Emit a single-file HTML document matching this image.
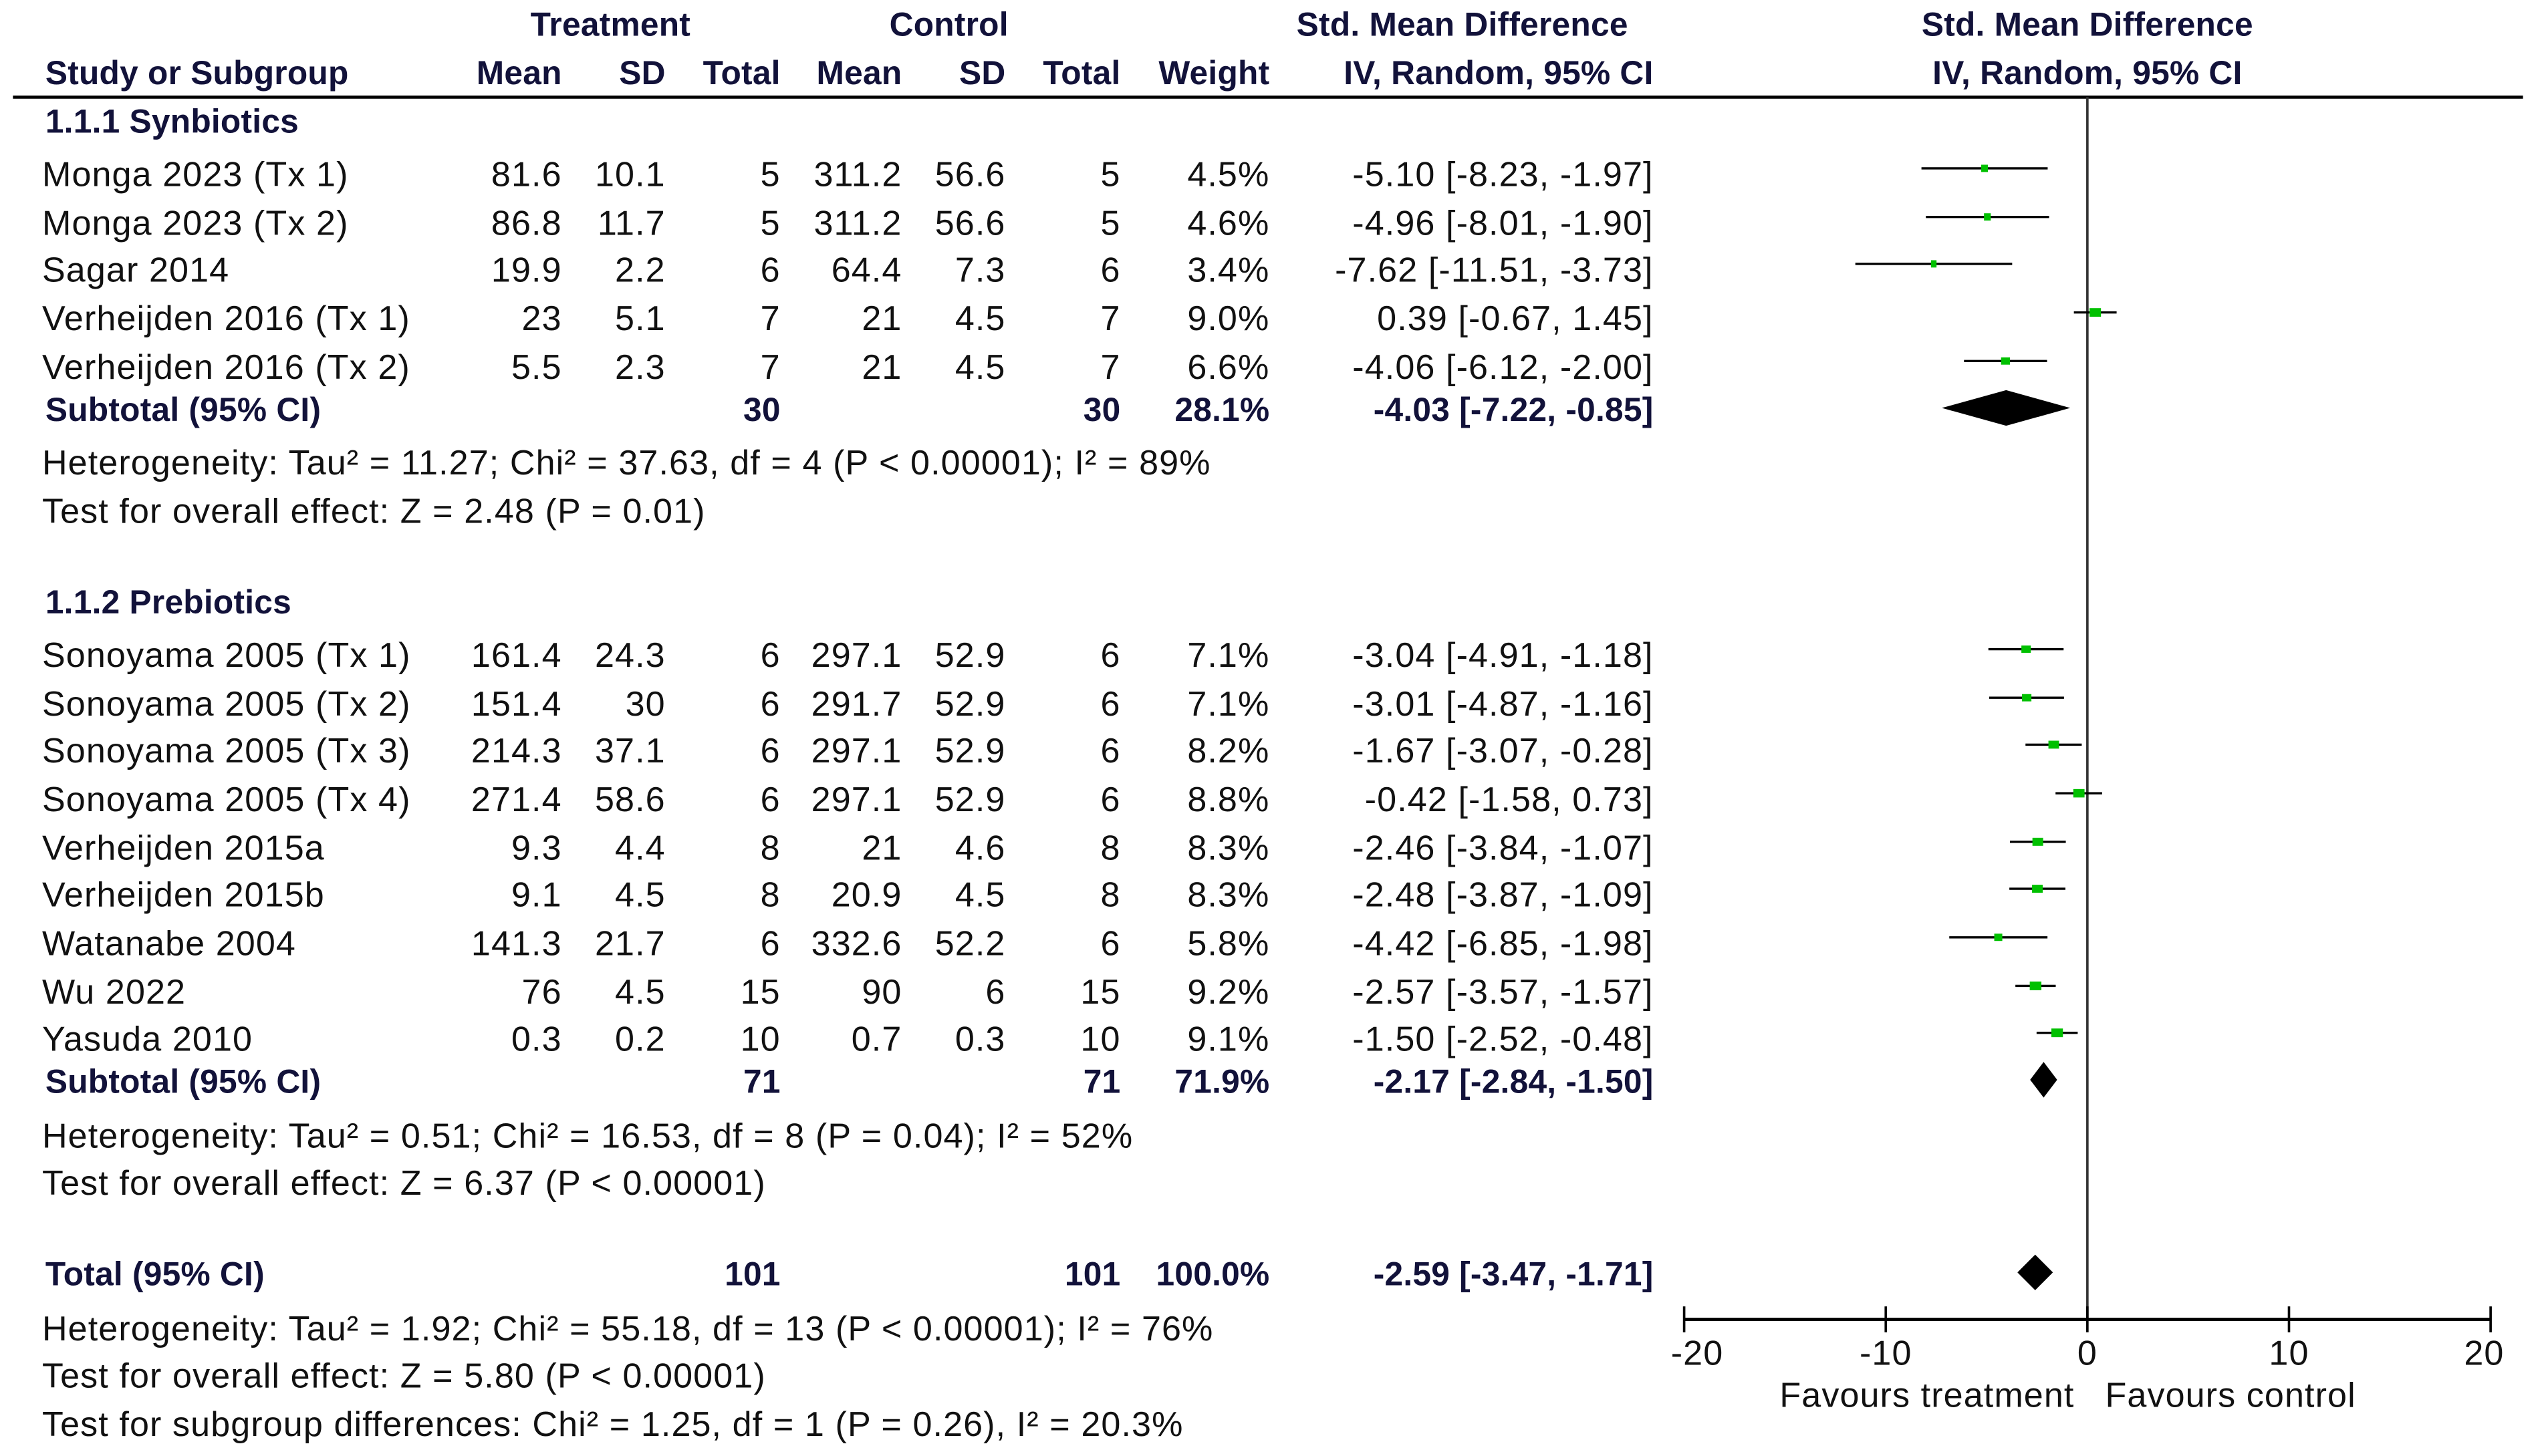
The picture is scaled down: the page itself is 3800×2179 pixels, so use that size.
<!DOCTYPE html>
<html><head><meta charset="utf-8">
<style>
html,body{margin:0;padding:0;background:#fff;}
svg{display:block;}
text{font-family:"Liberation Sans",Arial,sans-serif;font-size:21.5px;letter-spacing:0.45px;fill:#111;}
.b{font-weight:bold;fill:#12123a;font-size:20.5px;letter-spacing:0.1px;}
</style></head>
<body>
<svg id="chart" width="3800" height="2179" viewBox="0 0 1568.5 899.4" preserveAspectRatio="none" xmlns="http://www.w3.org/2000/svg">
<g>
<text class="b" x="377" y="22" text-anchor="middle">Treatment</text>
<text class="b" x="586" y="22" text-anchor="middle">Control</text>
<text class="b" x="903" y="22" text-anchor="middle">Std. Mean Difference</text>
<text class="b" x="1289" y="22" text-anchor="middle">Std. Mean Difference</text>
<text class="b" x="28" y="52">Study or Subgroup</text>
<text class="b" x="347" y="52" text-anchor="end">Mean</text>
<text class="b" x="411" y="52" text-anchor="end">SD</text>
<text class="b" x="482" y="52" text-anchor="end">Total</text>
<text class="b" x="557" y="52" text-anchor="end">Mean</text>
<text class="b" x="621" y="52" text-anchor="end">SD</text>
<text class="b" x="692" y="52" text-anchor="end">Total</text>
<text class="b" x="784" y="52" text-anchor="end">Weight</text>
<text class="b" x="1021" y="52" text-anchor="end">IV, Random, 95% CI</text>
<text class="b" x="1289" y="52" text-anchor="middle">IV, Random, 95% CI</text>
<line x1="8" y1="60" x2="1558" y2="60" stroke="#000" stroke-width="2"/>
</g>
<g id="rows"></g>
<g id="plot"></g>
</svg>
<script>
// Study data
const studies = ["Monga 2023 (Tx 1)","Monga 2023 (Tx 2)","Sagar 2014","Verheijden 2016 (Tx 1)","Verheijden 2016 (Tx 2)",
 "Sonoyama 2005 (Tx 1)","Sonoyama 2005 (Tx 2)","Sonoyama 2005 (Tx 3)","Sonoyama 2005 (Tx 4)","Verheijden 2015a","Verheijden 2015b","Watanabe 2004","Wu 2022","Yasuda 2010"];
const trtMean = ["81.6","86.8","19.9","23","5.5","161.4","151.4","214.3","271.4","9.3","9.1","141.3","76","0.3"];
const trtSD = ["10.1","11.7","2.2","5.1","2.3","24.3","30","37.1","58.6","4.4","4.5","21.7","4.5","0.2"];
const trtN = ["5","5","6","7","7","6","6","6","6","8","8","6","15","10"];
const ctlMean = ["311.2","311.2","64.4","21","21","297.1","291.7","297.1","297.1","21","20.9","332.6","90","0.7"];
const ctlSD = ["56.6","56.6","7.3","4.5","4.5","52.9","52.9","52.9","52.9","4.6","4.5","52.2","6","0.3"];
const ctlN = ["5","5","6","7","7","6","6","6","6","8","8","6","15","10"];
const weights = [4.5,4.6,3.4,9.0,6.6,7.1,7.1,8.2,8.8,8.3,8.3,5.8,9.2,9.1];
const smd = [-5.10,-4.96,-7.62,0.39,-4.06,-3.04,-3.01,-1.67,-0.42,-2.46,-2.48,-4.42,-2.57,-1.50];
const ciLo = [-8.23,-8.01,-11.51,-0.67,-6.12,-4.91,-4.87,-3.07,-1.58,-3.84,-3.87,-6.85,-3.57,-2.52];
const ciHi = [-1.97,-1.90,-3.73,1.45,-2.00,-1.18,-1.16,-0.28,0.73,-1.07,-1.09,-1.98,-1.57,-0.48];
const studyRowY = [108,138,167,197,227,405,435,464,494,524,553,583,613,642];
// Summary data
const sumLabels = ["Subtotal (95% CI)","Subtotal (95% CI)","Total (95% CI)"];
const sumTrtN = ["30","71","101"];
const sumCtlN = ["30","71","101"];
const sumWeight = ["28.1%","71.9%","100.0%"];
const sumEst = [-4.03,-2.17,-2.59];
const sumLo = [-7.22,-2.84,-3.47];
const sumHi = [-0.85,-1.50,-1.71];
const sumRowY = [253,668,787];
const axisTicks = [-20,-10,0,10,20];

const NS="http://www.w3.org/2000/svg";
const rows=document.getElementById('rows'), plot=document.getElementById('plot');
function xs(v){return 1289+v*12.45;}
function mk(tag,attrs,parent,txt){const e=document.createElementNS(NS,tag);for(const k in attrs)e.setAttribute(k,attrs[k]);if(txt!==undefined)e.textContent=txt;parent.appendChild(e);return e;}
function f2(v){return (v<0?"-":"")+Math.abs(v).toFixed(2);}
function txt(x,y,s,anchor,cls,name){const t=mk('text',{x:x,y:y+7,'text-anchor':anchor||'start'},rows,s);if(cls)t.setAttribute('class',cls);

return t;}

txt(28,75,"1.1.1 Synbiotics","start","b","group-title-synbiotics");
txt(28,372,"1.1.2 Prebiotics","start","b","group-title-prebiotics");
const notes=[[286,"Heterogeneity: Tau² = 11.27; Chi² = 37.63, df = 4 (P < 0.00001); I² = 89%"],[316,"Test for overall effect: Z = 2.48 (P = 0.01)"],
[702,"Heterogeneity: Tau² = 0.51; Chi² = 16.53, df = 8 (P = 0.04); I² = 52%"],[731,"Test for overall effect: Z = 6.37 (P < 0.00001)"],
[821,"Heterogeneity: Tau² = 1.92; Chi² = 55.18, df = 13 (P < 0.00001); I² = 76%"],[850,"Test for overall effect: Z = 5.80 (P < 0.00001)"],
[880,"Test for subgroup differences: Chi² = 1.25, df = 1 (P = 0.26), I² = 20.3%"]];
notes.forEach(n=>txt(26,n[0],n[1],"start",null,"stats-note"));

const zl=mk('line',{x1:xs(0),y1:60,x2:xs(0),y2:815,stroke:'#333','stroke-width':1.5},plot);



studies.forEach((s,i)=>{
 const y=studyRowY[i];
 txt(26,y,s,"start",null,"study-name");
 txt(347,y,trtMean[i],"end",null,"treatment-mean");
 txt(411,y,trtSD[i],"end",null,"treatment-sd");
 txt(482,y,trtN[i],"end",null,"treatment-total");
 txt(557,y,ctlMean[i],"end",null,"control-mean");
 txt(621,y,ctlSD[i],"end",null,"control-sd");
 txt(692,y,ctlN[i],"end",null,"control-total");
 txt(784,y,weights[i].toFixed(1)+"%","end",null,"weight");
 txt(1021,y,f2(smd[i])+" ["+f2(ciLo[i])+", "+f2(ciHi[i])+"]","end",null,"effect-ci");
 const py=y-4;
 const l=mk('line',{x1:xs(ciLo[i]),y1:py,x2:xs(ciHi[i]),y2:py,stroke:'#000','stroke-width':1.4},plot);
 
 
 const sz=1.2+weights[i]*0.65, sh=Math.max(4.5,sz*0.75);
 const r=mk('rect',{x:xs(smd[i])-sz/2,y:py-sh/2,width:sz,height:sh,fill:'#00c000'},plot);
 
 
});

sumLabels.forEach((s,i)=>{
 const y=sumRowY[i];
 txt(28,y,s,"start","b","summary-label");
 txt(482,y,sumTrtN[i],"end","b","summary-treatment-total");
 txt(692,y,sumCtlN[i],"end","b","summary-control-total");
 txt(784,y,sumWeight[i],"end","b","summary-weight");
 txt(1021,y,f2(sumEst[i])+" ["+f2(sumLo[i])+", "+f2(sumHi[i])+"]","end","b","summary-effect-ci");
 const py=y-1;
 const d=mk('polygon',{points:`${xs(sumLo[i])},${py} ${xs(sumEst[i])},${py-11} ${xs(sumHi[i])},${py} ${xs(sumEst[i])},${py+11}`,fill:'#000'},plot);
 
 
});

const ax=mk('line',{x1:xs(-20),y1:815,x2:xs(20),y2:815,stroke:'#000','stroke-width':2},plot);


axisTicks.forEach(t=>{
 const tk=mk('line',{x1:xs(t),y1:807,x2:xs(t),y2:823,stroke:'#000','stroke-width':1.5},plot);
 
 
 const lb=mk('text',{x:xs(t)+(t===20?-4:t===-20?8:0),y:843,'text-anchor':'middle'},plot,String(t));
 
 
});
const f1=mk('text',{x:1281,y:869,'text-anchor':'end'},plot,"Favours treatment");


const f2l=mk('text',{x:1300,y:869,'text-anchor':'start'},plot,"Favours control");


</script>
</body></html>
